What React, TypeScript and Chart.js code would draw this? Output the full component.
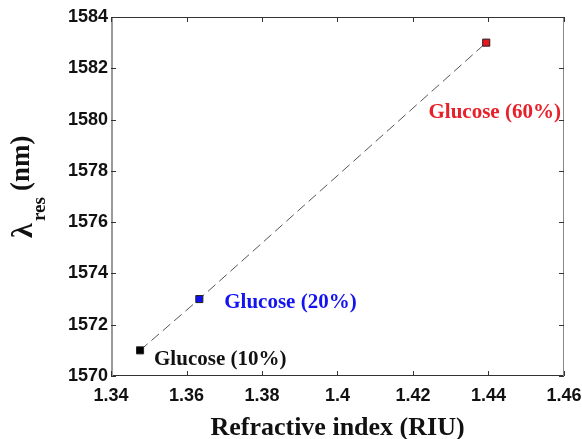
import React, { useEffect, useRef } from "react";
import { Chart, registerables } from "chart.js";

Chart.register(...registerables);

// Data
const refractiveIndex = [1.3477, 1.3634, 1.4394];
const lambdaRes = [1571, 1573, 1583];
const pointLabels = ["Glucose (10%)", "Glucose (20%)", "Glucose (60%)"];
const pointColors = ["#000000", "#1010f0", "#e8161e"];
const labelColors = ["#111111", "#1414f0", "#e8202a"];
// label anchor positions (data units, left-middle of text)
const labelAnchorX = [1.3514, 1.3700, 1.4241];
const labelAnchorY = [1570.63, 1572.85, 1580.26];
const xTicks = [1.34, 1.36, 1.38, 1.4, 1.42, 1.44, 1.46];
const yTicks = [1570, 1572, 1574, 1576, 1578, 1580, 1582, 1584];

const SERIF = '"Liberation Serif", "Times New Roman", serif';
const SANS = '"Liberation Sans", Arial, sans-serif';

const decorPlugin = {
  id: "decor",
  afterDraw(chart: any) {
    const { ctx, chartArea: a, scales } = chart;
    const x = scales.x;
    const y = scales.y;
    ctx.save();
    // frame
    ctx.lineWidth = 1;
    ctx.strokeStyle = "#333333";
    ctx.beginPath();
    ctx.moveTo(a.left, a.top + 0.5);
    ctx.lineTo(a.right, a.top + 0.5);
    ctx.moveTo(a.left, a.bottom - 0.5);
    ctx.lineTo(a.right, a.bottom - 0.5);
    ctx.stroke();
    ctx.strokeStyle = "#888888";
    ctx.beginPath();
    ctx.moveTo(a.right - 0.5, a.top);
    ctx.lineTo(a.right - 0.5, a.bottom);
    ctx.stroke();
    ctx.strokeStyle = "#9a9a9a";
    ctx.lineWidth = 2;
    ctx.beginPath();
    ctx.moveTo(a.left + 1, a.top);
    ctx.lineTo(a.left + 1, a.bottom);
    ctx.stroke();
    // inward ticks
    ctx.lineWidth = 1;
    ctx.strokeStyle = "#333333";
    ctx.beginPath();
    for (const v of xTicks) {
      const px = Math.round(x.getPixelForValue(v)) + 0.5;
      ctx.moveTo(px, a.bottom);
      ctx.lineTo(px, a.bottom - 5);
      ctx.moveTo(px, a.top);
      ctx.lineTo(px, a.top + 5);
    }
    for (const v of yTicks) {
      const py = Math.round(y.getPixelForValue(v)) + 0.5;
      ctx.moveTo(a.left, py);
      ctx.lineTo(a.left + 5, py);
      ctx.moveTo(a.right, py);
      ctx.lineTo(a.right - 5, py);
    }
    ctx.stroke();
    // point labels
    ctx.font = `bold 21px ${SERIF}`;
    ctx.textAlign = "left";
    ctx.textBaseline = "middle";
    pointLabels.forEach((t, i) => {
      ctx.fillStyle = labelColors[i];
      ctx.fillText(t, x.getPixelForValue(labelAnchorX[i]), y.getPixelForValue(labelAnchorY[i]));
    });
    // x title
    ctx.fillStyle = "#111111";
    ctx.font = `bold 26px ${SERIF}`;
    ctx.textAlign = "center";
    ctx.textBaseline = "alphabetic";
    ctx.fillText("Refractive index (RIU)", (a.left + a.right) / 2, 435);
    // y title (rotated)
    ctx.save();
    ctx.rotate(-Math.PI / 2);
    ctx.textAlign = "left";
    ctx.font = `bold 30px ${SERIF}`;
    ctx.fillText("λ", -238, 32);
    ctx.font = `bold 19px ${SERIF}`;
    ctx.fillText("res", -221, 45);
    ctx.font = `bold 27px ${SERIF}`;
    ctx.fillText("(nm)", -191, 29);
    ctx.restore();
    ctx.restore();
  },
};

export default function App() {
  const ref = useRef<HTMLCanvasElement | null>(null);
  useEffect(() => {
    if (!ref.current) return;
    const chart = new Chart(ref.current, {
      type: "scatter",
      data: {
        datasets: [
          {
            data: refractiveIndex.map((v, i) => ({ x: v, y: lambdaRes[i] })),
            showLine: true,
            borderColor: "#555555",
            borderWidth: 1,
            borderDash: [10, 5],
            pointStyle: "rect",
            pointRadius: 5,
            pointBorderWidth: 1,
            pointBorderColor: "#222222",
            pointBackgroundColor: pointColors,
          },
        ],
      },
      options: {
        animation: false,
        responsive: true,
        maintainAspectRatio: false,
        layout: { padding: { top: 17, right: 18, left: 0, bottom: 0 } },
        plugins: { legend: { display: false }, tooltip: { enabled: false } },
        scales: {
          x: {
            type: "linear",
            min: 1.34,
            max: 1.46,
            grid: { display: false, drawTicks: false },
            border: { display: false },
            afterBuildTicks: (s: any) => {
              s.ticks = xTicks.map((v) => ({ value: v }));
            },
            afterFit: (s: any) => {
              s.height = 63;
              s.paddingLeft = 0;
              s.paddingRight = 0;
            },
            ticks: {
              padding: 9,
              color: "#111111",
              maxRotation: 0,
              autoSkip: false,
              font: { family: SANS, size: 18, weight: "bold" },
              callback: (v: any) => String(Number(Number(v).toFixed(2))),
            },
          },
          y: {
            type: "linear",
            min: 1570,
            max: 1584,
            grid: { display: false, drawTicks: false },
            border: { display: false },
            afterBuildTicks: (s: any) => {
              s.ticks = yTicks.map((v) => ({ value: v }));
            },
            afterFit: (s: any) => {
              s.width = 111;
              s.paddingTop = 0;
              s.paddingBottom = 0;
            },
            ticks: {
              padding: 3,
              color: "#111111",
              autoSkip: false,
              font: { family: SANS, size: 18, weight: "bold" },
              callback: (v: any) => String(v),
            },
          },
        },
      },
      plugins: [decorPlugin],
    } as any);
    return () => chart.destroy();
  }, []);
  return (
    <div style={{ position: "fixed", left: 0, top: 0, width: 582, height: 439, background: "#fff" }}>
      <canvas ref={ref} />
    </div>
  );
}
